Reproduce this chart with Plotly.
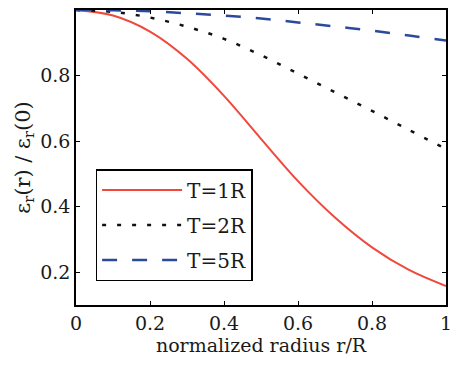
import plotly.graph_objects as go

r = [0.0, 0.1, 0.2, 0.3, 0.4, 0.5, 0.6, 0.7, 0.8, 0.9, 1.0]
t1 = [1.0, 0.983, 0.934, 0.851, 0.738, 0.607, 0.478, 0.367, 0.276, 0.207, 0.158]
t2 = [1.0, 0.994, 0.977, 0.949, 0.912, 0.862, 0.806, 0.749, 0.692, 0.634, 0.576]
t5 = [1.0, 0.999, 0.996, 0.99, 0.983, 0.974, 0.962, 0.95, 0.937, 0.922, 0.907]
names = ["T=1R", "T=2R", "T=5R"]
xticks = [0, 0.2, 0.4, 0.6, 0.8, 1]
xticklabels = ["0", "0.2", "0.4", "0.6", "0.8", "1"]
yticks = [0.2, 0.4, 0.6, 0.8, 1]
yticklabels = ["0.2", "0.4", "0.6", "0.8", "1"]

FONT = "'DejaVu Serif', serif"
TXT = "#1a1a1a"

fig = go.Figure()
fig.add_trace(go.Scatter(x=r, y=t1, name=names[0], mode="lines", line_shape="spline",
                         legendgroup="a", line=dict(color="#f0483c", width=2)))
fig.add_trace(go.Scatter(x=r, y=t2, name=names[1], mode="lines", line_shape="spline",
                         legendgroup="b", line=dict(color="#111111", width=2.5, dash="4px,11px")))
fig.add_trace(go.Scatter(x=r, y=t5, name=names[2], mode="lines", line_shape="spline",
                         legendgroup="c", line=dict(color="#2c4a9c", width=2.5, dash="15px,15px")))

fig.update_layout(
    width=458, height=369,
    margin=dict(l=76, r=6, t=10, b=64),
    paper_bgcolor="white", plot_bgcolor="white",
    font=dict(family=FONT, size=20, color=TXT),
    showlegend=True,
    legend=dict(x=0.053, y=0.461, xanchor="left", yanchor="top",
                bordercolor="black", borderwidth=1.5, bgcolor="white",
                font=dict(family=FONT, size=20, color=TXT),
                tracegroupgap=6, itemwidth=80),
)
fig.update_xaxes(range=[0, 1], tickvals=xticks, ticktext=xticklabels,
                 showline=True, linecolor="black", linewidth=1.5, mirror="ticks",
                 ticks="inside", ticklen=4, tickcolor="black", showgrid=False, zeroline=False,
                 tickfont=dict(family=FONT, size=19, color=TXT),
                 title=dict(text="normalized radius r/R", standoff=6,
                            font=dict(family=FONT, size=19, color=TXT)))
fig.update_yaxes(range=[0.1, 1], tickvals=yticks, ticktext=yticklabels,
                 showline=True, linecolor="black", linewidth=1.5, mirror="ticks",
                 ticks="inside", ticklen=4, tickcolor="black", showgrid=False, zeroline=False,
                 tickfont=dict(family=FONT, size=19, color=TXT),
                 title=dict(text="ε<sub>r</sub>(r) / ε<sub>r</sub>(0)", standoff=4,
                            font=dict(family=FONT, size=21, color=TXT)))

fig.write_html("out.html")
